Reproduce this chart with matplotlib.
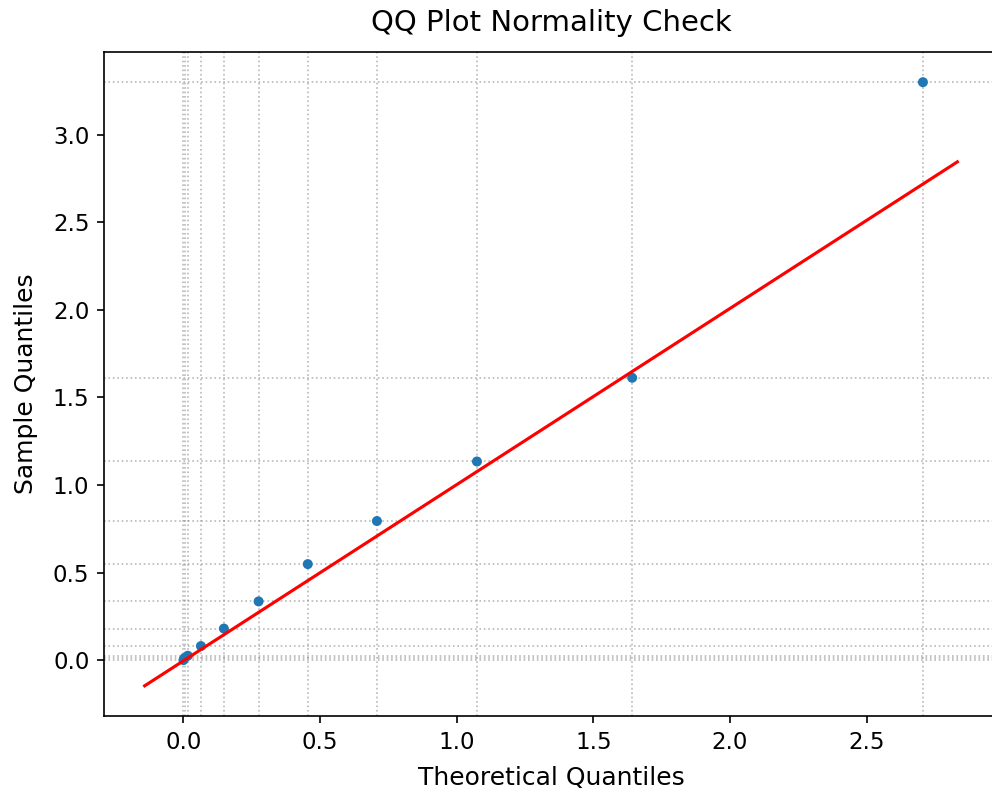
import numpy as np
from matplotlib import pyplot as plt

# theoretical vs sample quantiles
theoretical = [0.0, 0.004, 0.016, 0.064, 0.148, 0.275, 0.455, 0.708, 1.074, 1.642, 2.706]
sample = [0.0, 0.012, 0.025, 0.08, 0.18, 0.335, 0.548, 0.794, 1.134, 1.612, 3.30]

# reference line endpoints
line_x = [-0.142, 2.832]
line_y = [-0.147, 2.845]

DPI = 150
fig = plt.figure(figsize=(992 / DPI, 797 / DPI), dpi=DPI)
ax = fig.add_axes([104 / 992, 81 / 797, 894 / 992, 664 / 797])

for x in theoretical:
    ax.axvline(x, color='gray', linestyle=':', linewidth=0.8, alpha=0.55, zorder=1)
for y in sample:
    ax.axhline(y, color='gray', linestyle=':', linewidth=0.8, alpha=0.55, zorder=1)

ax.scatter(theoretical, sample, s=23, color='#1f77b4', edgecolor='none', zorder=2)
ax.plot(line_x, line_y, color='red', linewidth=1.5, zorder=3)

ax.set_title('QQ Plot Normality Check', fontsize=14, pad=10)
ax.set_xlabel('Theoretical Quantiles', fontsize=12, labelpad=6)
ax.set_ylabel('Sample Quantiles', fontsize=12, labelpad=7)
ax.tick_params(labelsize=11)

fig.savefig('out.png', dpi=DPI)
